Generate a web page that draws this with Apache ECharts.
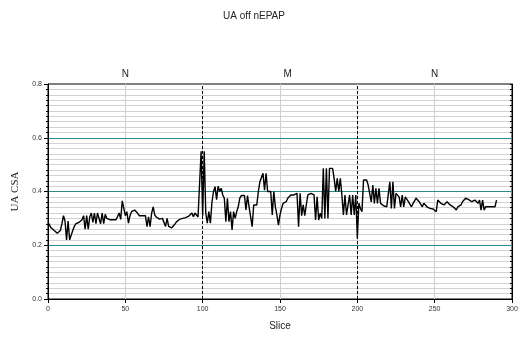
<!DOCTYPE html>
<html>
<head>
<meta charset="utf-8">
<script src="https://cdn.jsdelivr.net/npm/echarts@6/dist/echarts.min.js"></script>
<style>
  html, body { margin: 0; padding: 0; background: #fff; }
  #chart { width: 521px; height: 338px; }
</style>
</head>
<body>
<div id="chart"></div>
<script>
// UA cross-sectional area per slice, nasal EPAP off
const chartTitle = 'UA off nEPAP';
const xName = 'Slice';
const yName = 'UA CSA';
const firstSlice = 0;
const uaCsa = [
  0.285, 0.275, 0.265, 0.26, 0.255, 0.25, 0.245, 0.24, 0.255, 0.28,
  0.31, 0.29, 0.22, 0.29, 0.22, 0.22, 0.255, 0.27, 0.28, 0.285,
  0.285, 0.29, 0.295, 0.31, 0.26, 0.31, 0.26, 0.305, 0.32, 0.285,
  0.32, 0.28, 0.32, 0.32, 0.28, 0.32, 0.28, 0.315, 0.30, 0.298,
  0.295, 0.29, 0.295, 0.297, 0.295, 0.29, 0.32, 0.296, 0.365, 0.365,
  0.31, 0.325, 0.282, 0.31, 0.325, 0.33, 0.331, 0.325, 0.319, 0.31,
  0.306, 0.31, 0.313, 0.31, 0.269, 0.306, 0.269, 0.319, 0.343, 0.313,
  0.305, 0.30, 0.297, 0.294, 0.30, 0.30, 0.27, 0.30, 0.27, 0.263,
  0.265, 0.269, 0.278, 0.287, 0.294, 0.296, 0.298, 0.30, 0.302, 0.303,
  0.306, 0.308, 0.31, 0.32, 0.306, 0.32, 0.313, 0.305, 0.30, 0.55,
  0.31, 0.55, 0.32, 0.282, 0.325, 0.282, 0.36, 0.40, 0.418, 0.37,
  0.42, 0.40, 0.412, 0.387, 0.375, 0.288, 0.375, 0.288, 0.325, 0.257,
  0.325, 0.30, 0.325, 0.343, 0.375, 0.385, 0.387, 0.385, 0.331, 0.385,
  0.343, 0.35, 0.269, 0.35, 0.343, 0.35, 0.40, 0.436, 0.443, 0.468,
  0.405, 0.468, 0.40, 0.40, 0.40, 0.313, 0.40, 0.343, 0.313, 0.275,
  0.313, 0.337, 0.356, 0.36, 0.362, 0.375, 0.38, 0.387, 0.387, 0.387,
  0.393, 0.393, 0.269, 0.393, 0.31, 0.35, 0.31, 0.35, 0.387, 0.39,
  0.393, 0.39, 0.387, 0.294, 0.38, 0.294, 0.319, 0.30, 0.486, 0.30,
  0.486, 0.30, 0.486, 0.486, 0.486, 0.449, 0.40, 0.449, 0.40, 0.449,
  0.387, 0.313, 0.387, 0.313, 0.35, 0.387, 0.313, 0.387, 0.313, 0.387,
  0.225, 0.356, 0.337, 0.325, 0.443, 0.443, 0.443, 0.424, 0.418, 0.361,
  0.424, 0.356, 0.412, 0.356, 0.412, 0.356, 0.35, 0.347, 0.345, 0.343,
  0.337, 0.436, 0.337, 0.436, 0.337, 0.393, 0.387, 0.38, 0.343, 0.387,
  0.343, 0.38, 0.375, 0.362, 0.362, 0.343, 0.355, 0.362, 0.375, 0.368,
  0.362, 0.356, 0.343, 0.356, 0.35, 0.343, 0.343, 0.337, 0.337, 0.335,
  0.331, 0.325, 0.368, 0.368, 0.356, 0.362, 0.35, 0.356, 0.362, 0.355,
  0.35, 0.356, 0.343, 0.337, 0.331, 0.343, 0.35, 0.35, 0.362, 0.356,
  0.375, 0.372, 0.37, 0.368, 0.362, 0.356, 0.368, 0.368, 0.356, 0.368,
  0.331, 0.368, 0.331, 0.343, 0.343, 0.343, 0.343, 0.343, 0.343, 0.343,
  0.368
];
// phase labels along the top and the slices that separate them
const phaseNames = ['N', 'M', 'N'];
const phaseCenters = [50, 155, 250];
const phaseBounds = [100, 200];
const xTicks = [0, 50, 100, 150, 200, 250, 300];
const yTicks = [0.0, 0.2, 0.4, 0.6, 0.8];
// the fine grid runs in steps of 0.02, i.e. 40 steps over the y range
const fineSteps = 40;

const teal = '#2b8a8a';
const fineGrey = '#d2d2d2';
const points = uaCsa.map((v, i) => [firstSlice + i, v]);
const labelFont = 'Liberation Sans, Arial, sans-serif';
const yMin = yTicks[0];
const yMax = yTicks[yTicks.length - 1];

const chart = echarts.init(document.getElementById('chart'), null, { renderer: 'canvas' });
chart.setOption({
  animation: false,
  backgroundColor: '#fff',
  grid: { left: 48, right: 9, top: 84, bottom: 39, show: true, borderColor: '#000', borderWidth: 1, backgroundColor: 'transparent' },
  xAxis: {
    type: 'value',
    min: xTicks[0], max: xTicks[xTicks.length - 1], interval: 50,
    name: xName, nameLocation: 'middle', nameGap: 22,
    nameTextStyle: { fontFamily: labelFont, fontSize: 10, color: '#222' },
    axisLine: { show: true, lineStyle: { color: '#000', width: 1 } },
    axisTick: { show: true, length: 4, lineStyle: { color: '#000' } },
    axisLabel: { fontFamily: labelFont, fontSize: 7, color: '#333', margin: 7 },
    splitLine: { show: true, showMinLine: false, showMaxLine: false, lineStyle: { color: '#cfcfcf', width: 1 } }
  },
  yAxis: [{
    // value axis: labels, major ticks and the teal lines, drawn above the fine grid
    type: 'value', position: 'left', z: 3,
    min: yMin, max: yMax, interval: 0.2,
    name: yName, nameLocation: 'middle', nameGap: 27, nameRotate: 90,
    nameTextStyle: { fontFamily: 'Liberation Serif, Times New Roman, serif', fontSize: 11, color: '#222' },
    axisLine: { show: true, lineStyle: { color: '#000', width: 1 } },
    axisTick: { show: true, length: 4, lineStyle: { color: '#000' } },
    axisLabel: { fontFamily: labelFont, fontSize: 7, color: '#333', margin: 6, formatter: v => v.toFixed(1) },
    splitLine: { show: true, showMinLine: false, showMaxLine: false, lineStyle: { color: teal, width: 1 } }
  }, {
    // fine grid counted in whole steps, with inner ticks on the right edge
    type: 'value', position: 'right', z: 1,
    min: 0, max: fineSteps, interval: 1,
    axisLine: { show: true, lineStyle: { color: '#000', width: 1 } },
    axisTick: { show: true, inside: true, length: 2, lineStyle: { color: '#000' } },
    axisLabel: { show: false },
    splitLine: { show: true, showMinLine: false, showMaxLine: false, lineStyle: { color: fineGrey, width: 1 } }
  }, {
    // short outer ticks for every fine step on the left edge
    type: 'value', position: 'left', z: 1,
    min: 0, max: fineSteps, interval: 1,
    axisLine: { show: false },
    axisTick: { show: true, length: 2, lineStyle: { color: '#000' } },
    axisLabel: { show: false },
    splitLine: { show: false }
  }],
  series: [{
    type: 'line',
    data: points,
    showSymbol: false,
    symbol: 'none',
    lineStyle: { color: '#000', width: 1.4 },
    z: 5,
    markLine: {
      silent: true,
      symbol: 'none',
      label: { show: false },
      lineStyle: { color: '#000', type: [3, 2], width: 1 },
      data: phaseBounds.map(x => ({ xAxis: x }))
    }
  }]
});

// title and phase labels
const topY = chart.convertToPixel({ yAxisIndex: 0 }, yMax);
chart.setOption({
  graphic: [{
    type: 'text', x: 254, y: 11,
    style: { text: chartTitle, font: '10px ' + labelFont, fill: '#222', textAlign: 'center', textVerticalAlign: 'top' }
  }].concat(phaseNames.map((n, i) => ({
    type: 'text',
    x: chart.convertToPixel({ xAxisIndex: 0 }, phaseCenters[i]),
    y: topY - 5,
    style: { text: n, font: '10px ' + labelFont, fill: '#222', textAlign: 'center', textVerticalAlign: 'bottom' }
  })))
});
</script>
</body>
</html>
